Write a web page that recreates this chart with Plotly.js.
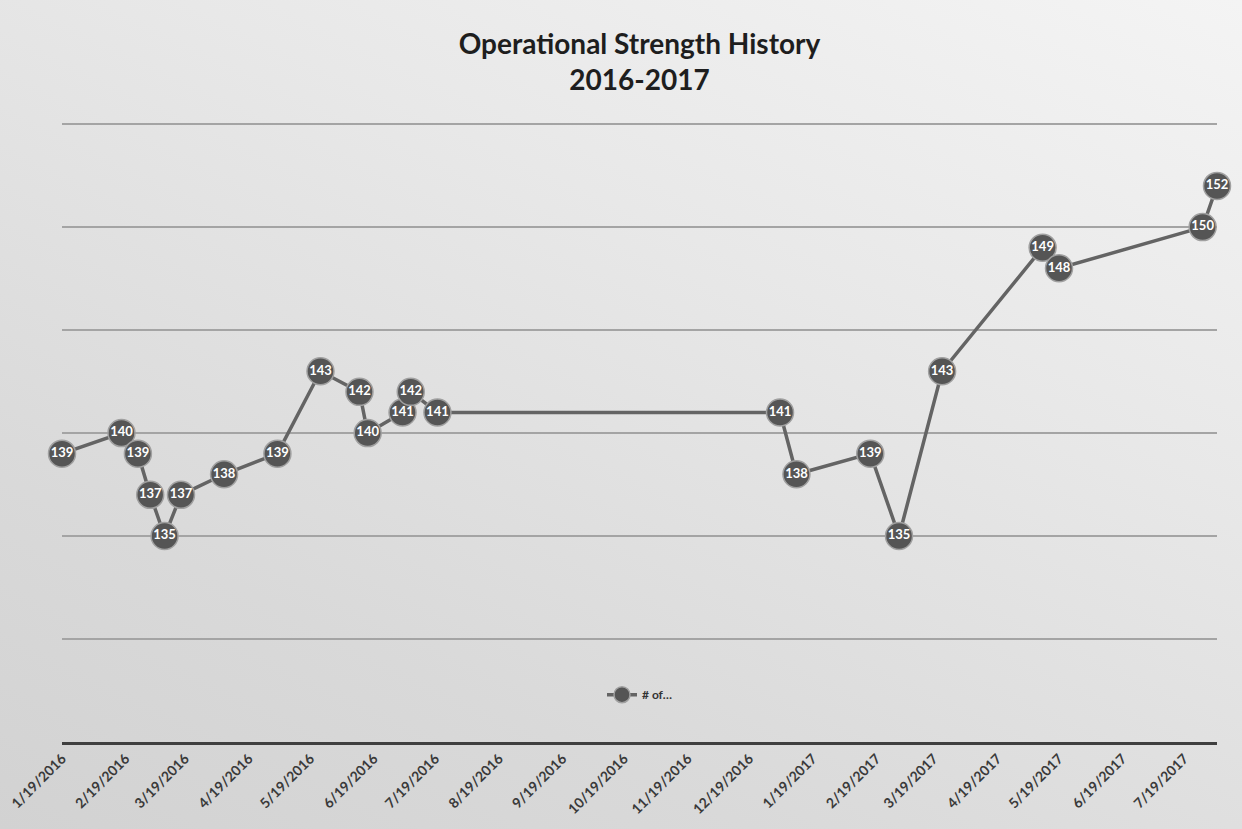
<!DOCTYPE html>
<html>
<head>
<meta charset="utf-8">
<script src="https://cdn.plot.ly/plotly-3.0.1.min.js"></script>
<style>
html,body{margin:0;padding:0;}
body{width:1242px;height:829px;background:linear-gradient(205deg,#f4f4f4 0%,#e8e8e8 35%,#d9d9d9 75%,#d2d2d2 100%);}
#chart{width:1242px;height:829px;}
</style>
</head>
<body>
<div id="chart"></div>
<script>
const dates = ['2016-01-19','2016-02-17','2016-02-25','2016-03-02','2016-03-09','2016-03-17','2016-04-07','2016-05-03','2016-05-24','2016-06-12','2016-06-16','2016-07-03','2016-07-07','2016-07-20','2017-01-03','2017-01-11','2017-02-16','2017-03-02','2017-03-23','2017-05-11','2017-05-19','2017-07-28','2017-08-04'];
const strength = [139,140,139,137,135,137,138,139,143,142,140,141,142,141,141,138,139,135,143,149,148,150,152];
const tickDates = ['2016-01-19','2016-02-19','2016-03-19','2016-04-19','2016-05-19','2016-06-19','2016-07-19','2016-08-19','2016-09-19','2016-10-19','2016-11-19','2016-12-19','2017-01-19','2017-02-19','2017-03-19','2017-04-19','2017-05-19','2017-06-19','2017-07-19'];
const tickLabels = ['1/19/2016','2/19/2016','3/19/2016','4/19/2016','5/19/2016','6/19/2016','7/19/2016','8/19/2016','9/19/2016','10/19/2016','11/19/2016','12/19/2016','1/19/2017','2/19/2017','3/19/2017','4/19/2017','5/19/2017','6/19/2017','7/19/2017'];
const seriesName = '# of…';
const titleText = 'Operational Strength History<br>2016-2017';

const trace = {
  x: dates, y: strength, type: 'scatter', mode: 'lines+markers+text',
  name: seriesName,
  text: strength.map(String), textposition: 'middle center',
  textfont: {family: 'Lato, "Open Sans", sans-serif', size: 13, color: '#ffffff', weight: 'bold'},
  line: {color: '#646464', width: 3.5},
  marker: {size: 27, color: '#555555', line: {color: '#a0a0a0', width: 1.5}},
  cliponaxis: false
};

const layout = {
  width: 1242, height: 829, autosize: false,
  paper_bgcolor: 'rgba(0,0,0,0)', plot_bgcolor: 'rgba(0,0,0,0)',
  margin: {l: 62, r: 25, t: 120, b: 87},
  title: {text: titleText, x: 0.5, xanchor: 'center', xref: 'paper', y: 0.935, yanchor: 'middle',
    font: {family: 'Lato, "Open Sans", sans-serif', size: 28, color: '#1e1e1e', weight: 'bold'}},
  xaxis: {type: 'date', range: ['2016-01-19', '2017-08-04'],
    tickmode: 'array', tickvals: tickDates, ticktext: tickLabels, tickangle: -45,
    tickfont: {family: 'Lato, "Open Sans", sans-serif', size: 14, color: '#3a3a3a', weight: 'bold'},
    showgrid: false, zeroline: false, showline: true, linecolor: '#3f3f3f', linewidth: 3,
    ticks: '', ticklen: 0},
  yaxis: {range: [125, 155.2], dtick: 5, tick0: 125, showticklabels: false,
    showgrid: true, gridcolor: '#a4a4a4', gridwidth: 1.5, zeroline: false, showline: false, ticks: ''},
  showlegend: true,
  legend: {x: 0.5, xanchor: 'center', y: 0.076, yanchor: 'middle', orientation: 'h',
    bgcolor: 'rgba(0,0,0,0)', font: {family: 'Lato, "Open Sans", sans-serif', size: 12, color: '#333333', weight: 'bold'},
    itemwidth: 30}
};

Plotly.newPlot('chart', [trace], layout, {displayModeBar: false, staticPlot: true});
</script>
</body>
</html>
